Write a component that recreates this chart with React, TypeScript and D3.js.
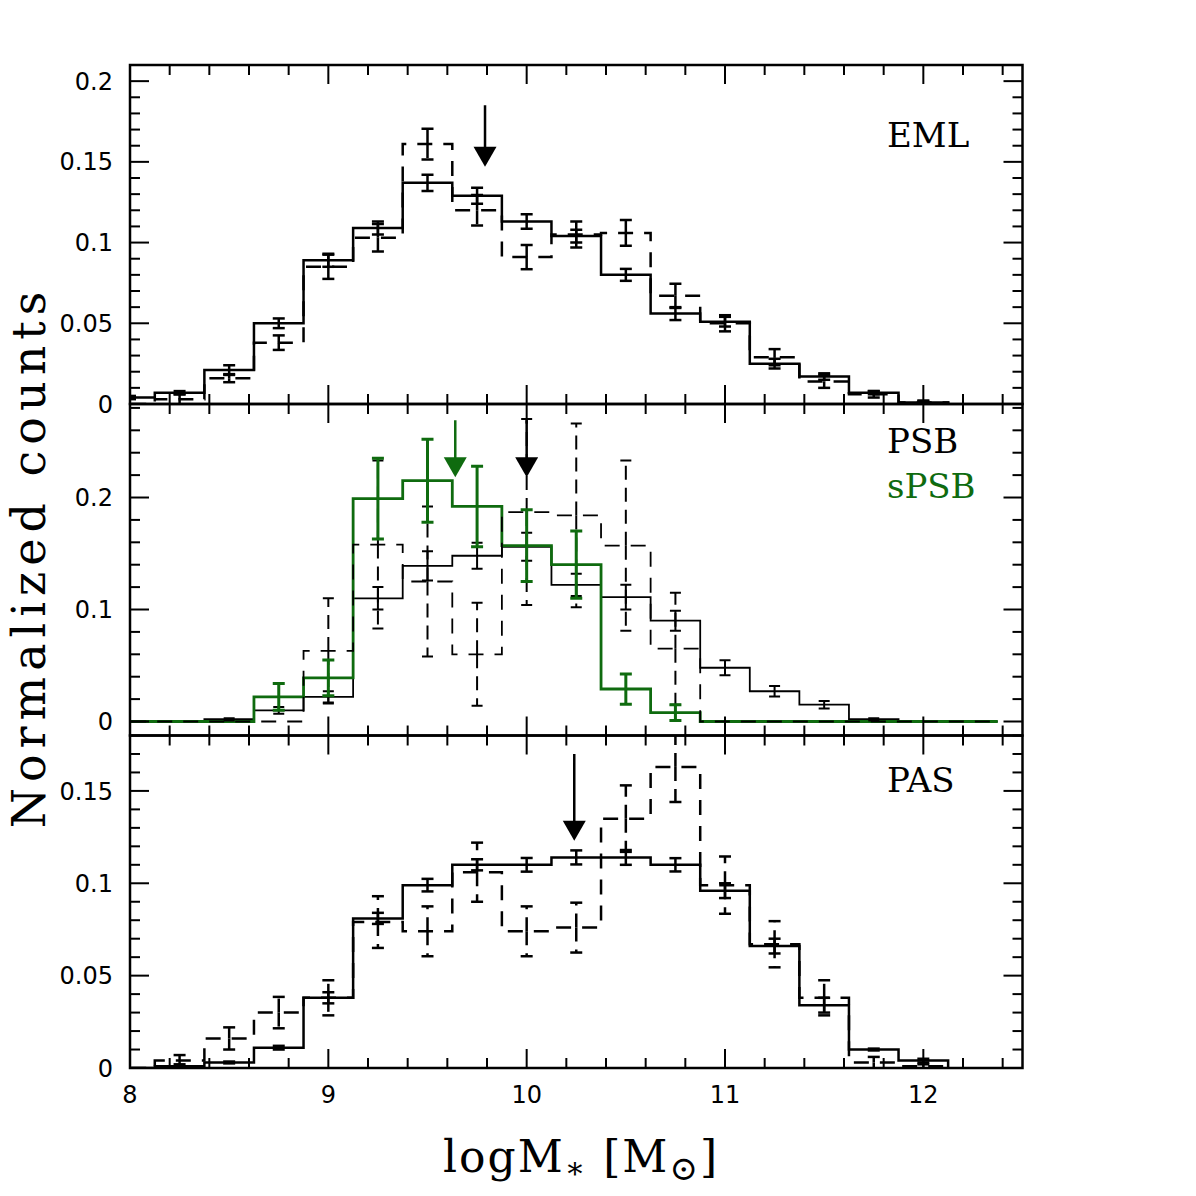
import React from 'react';
import * as d3 from 'd3';

// bins of 0.25 dex in stellar mass
const binCenters = [8.0, 8.25, 8.5, 8.75, 9.0, 9.25, 9.5, 9.75, 10.0, 10.25, 10.5, 10.75, 11.0, 11.25, 11.5, 11.75, 12.0, 12.25];
const HALF = 0.125;

// EML
const emlSolid = [0.004, 0.007, 0.021, 0.050, 0.089, 0.109, 0.137, 0.129, 0.113, 0.104, 0.080, 0.056, 0.051, 0.025, 0.017, 0.007, 0.001];
const emlSolidErr = [0.001, 0.001, 0.003, 0.003, 0.004, 0.004, 0.005, 0.005, 0.0045, 0.004, 0.0037, 0.004, 0.003, 0.003, 0.002, 0.001, 0.001];
const emlDashed = [0.0, 0.003, 0.016, 0.038, 0.085, 0.103, 0.161, 0.120, 0.091, 0.105, 0.106, 0.067, 0.050, 0.029, 0.014, 0.006, 0.001];
const emlDashedErr = [0, 0.003, 0.0025, 0.0045, 0.0075, 0.0085, 0.0095, 0.0095, 0.0075, 0.008, 0.008, 0.0075, 0.005, 0.005, 0.004, 0.002, 0.001];

// PSB / sPSB
const psbSolid = [0, 0, 0.002, 0.010, 0.022, 0.110, 0.139, 0.148, 0.156, 0.122, 0.111, 0.090, 0.048, 0.027, 0.015, 0.002, 0, 0];
const psbSolidErr = [0, 0, 0.001, 0.003, 0.005, 0.010, 0.013, 0.0115, 0.0125, 0.010, 0.011, 0.009, 0.0068, 0.0046, 0.0034, 0.001, 0, 0];
const psbDashed = [0, 0, 0, 0, 0.063, 0.158, 0.125, 0.060, 0.187, 0.184, 0.157, 0.065, 0, 0, 0, 0, 0, 0];
const psbDashedErr = [0, 0, 0, 0, 0.047, 0.075, 0.067, 0.046, 0.083, 0.082, 0.076, 0.050, 0, 0, 0, 0, 0, 0];
const spsb = [0, 0, 0, 0.022, 0.039, 0.199, 0.215, 0.192, 0.157, 0.140, 0.029, 0.008, 0, 0, 0, 0, 0, 0];
const spsbErr = [0, 0, 0, 0.012, 0.016, 0.036, 0.037, 0.036, 0.032, 0.030, 0.0135, 0.007, 0, 0, 0, 0, 0, 0];

// PAS
const pasSolid = [0, 0.001, 0.003, 0.011, 0.038, 0.081, 0.099, 0.110, 0.110, 0.114, 0.114, 0.110, 0.096, 0.066, 0.034, 0.010, 0.004];
const pasSolidErr = [0, 0.001, 0.0005, 0.001, 0.003, 0.003, 0.0034, 0.003, 0.0037, 0.0038, 0.004, 0.0036, 0.004, 0.004, 0.004, 0.0005, 0.001];
const pasDashed = [0, 0.004, 0.016, 0.030, 0.038, 0.079, 0.074, 0.106, 0.074, 0.076, 0.135, 0.163, 0.099, 0.067, 0.038, 0.003, 0.001];
const pasDashedErr = [0, 0.003, 0.006, 0.0085, 0.0095, 0.014, 0.0135, 0.016, 0.0135, 0.0135, 0.018, 0.019, 0.0155, 0.0125, 0.0095, 0.003, 0.001];

// medians
const medianEML = 9.79;
const medianPSB = 10.0;
const medianSPSB = 9.64;
const medianPAS = 10.24;

const xTicks = [8, 9, 10, 11, 12];
const GREEN = '#0f6b0f';
const DASH = '15,11';

const x = d3.scaleLinear().domain([8, 12.5]).range([130, 1022.5]);

const panels = [
  { id: 'eml', y: d3.scaleLinear().domain([0, 0.21]).range([404, 65]), minor: 0.01, labels: [0, 0.05, 0.1, 0.15, 0.2] },
  { id: 'psb', y: d3.scaleLinear().domain([-0.0125, 0.2835]).range([735.5, 404]), minor: 0.02, labels: [0, 0.1, 0.2] },
  { id: 'pas', y: d3.scaleLinear().domain([0, 0.18]).range([1068, 735.5]), minor: 0.01, labels: [0, 0.05, 0.1, 0.15] },
];

function stepPath(values: number[], y: d3.ScaleLinear<number, number>) {
  const pts: [number, number][] = [[binCenters[0] - HALF, 0]];
  values.forEach((v, i) => {
    pts.push([binCenters[i] - HALF, v]);
    pts.push([binCenters[i] + HALF, v]);
  });
  pts.push([binCenters[values.length - 1] + HALF, 0]);
  return d3.line<[number, number]>().x((d) => x(d[0])).y((d) => y(d[1]))(pts) || '';
}

function Hist({ values, y, color = '#000', width = 2.5, dashed = false }) {
  return (
    <path d={stepPath(values, y)} fill="none" stroke={color} strokeWidth={width}
      strokeDasharray={dashed ? DASH : undefined} strokeLinejoin="miter" />
  );
}

function ErrorBars({ values, errs, y, color = '#000', width = 2.5, dashed = false, cap = 12 }) {
  return (
    <g stroke={color} strokeWidth={width} fill="none">
      {values.map((v, i) => {
        const e = errs[i];
        if (!e) return null;
        const cx = x(binCenters[i]);
        const lo = y(Math.max(v - e, 0));
        const hi = y(v + e);
        const mid = y(v);
        return (
          <g key={i}>
            {dashed ? (
              <>
                <line x1={cx} x2={cx} y1={mid} y2={hi} strokeDasharray="14,8" />
                <line x1={cx} x2={cx} y1={mid} y2={lo} strokeDasharray="14,8" />
              </>
            ) : (
              <line x1={cx} x2={cx} y1={lo} y2={hi} />
            )}
            <line x1={cx - cap / 2} x2={cx + cap / 2} y1={hi} y2={hi} />
            {v - e > 0 && <line x1={cx - cap / 2} x2={cx + cap / 2} y1={lo} y2={lo} />}
          </g>
        );
      })}
    </g>
  );
}

function Arrow({ at, y, top, tip, color = '#000' }) {
  const cx = x(at);
  const yt = y(tip);
  return (
    <g>
      <line x1={cx} x2={cx} y1={y(top)} y2={yt - 18} stroke={color} strokeWidth={2.5} />
      <path d={`M${cx - 11.5},${yt - 20} L${cx + 11.5},${yt - 20} L${cx},${yt} Z`} fill={color} />
    </g>
  );
}

function Frame({ y, minor, labels }) {
  const [y0, y1] = y.range();
  const d1 = y.domain()[1];
  const xMinor = d3.range(8, 12.5001, 0.2).map((v) => +v.toFixed(2));
  const yMinor = d3.range(0, d1 + 1e-9, minor).map((v) => +v.toFixed(3));
  const isMajorX = (v: number) => Math.abs(v - Math.round(v)) < 1e-6;
  const isMajorY = (v: number) => labels.some((l) => Math.abs(l - v) < 1e-6);
  return (
    <g stroke="#000" strokeWidth={2}>
      {xMinor.map((v) => {
        const len = isMajorX(v) ? 19 : 10;
        return (
          <g key={'x' + v}>
            <line x1={x(v)} x2={x(v)} y1={y0} y2={y0 - len} />
            <line x1={x(v)} x2={x(v)} y1={y1} y2={y1 + len} />
          </g>
        );
      })}
      {yMinor.map((v) => {
        const len = isMajorY(v) ? 19 : 10;
        return (
          <g key={'y' + v}>
            <line x1={130} x2={130 + len} y1={y(v)} y2={y(v)} />
            <line x1={1022.5} x2={1022.5 - len} y1={y(v)} y2={y(v)} />
          </g>
        );
      })}
      <rect x={130} y={y1} width={1022.5 - 130} height={y0 - y1} fill="none" strokeWidth={2.5} />
      {labels.map((v) => (
        <text key={'l' + v} x={113} y={y(v)} dy="0.36em" textAnchor="end" stroke="none" fill="#000"
          fontFamily="DejaVu Sans" fontSize={24}>{String(v)}</text>
      ))}
    </g>
  );
}

export default function App() {
  const [p1, p2, p3] = panels;
  const labelFont = { fontFamily: 'DejaVu Serif', fontSize: 34 };
  return (
    <svg width={1196} height={1196} style={{ position: 'absolute', left: 0, top: 0, background: '#fff' }}>
      <defs>
        {panels.map((p) => (
          <clipPath id={'clip-' + p.id} key={p.id}>
            <rect x={130} y={p.y.range()[1]} width={1022.5 - 130} height={p.y.range()[0] - p.y.range()[1]} />
          </clipPath>
        ))}
      </defs>

      <g clipPath="url(#clip-eml)">
        <Hist values={emlDashed} y={p1.y} dashed />
        <Hist values={emlSolid} y={p1.y} />
        <ErrorBars values={emlDashed} errs={emlDashedErr} y={p1.y} dashed />
        <ErrorBars values={emlSolid} errs={emlSolidErr} y={p1.y} />
        <Arrow at={medianEML} y={p1.y} top={0.185} tip={0.147} />
      </g>

      <g clipPath="url(#clip-psb)">
        <Hist values={psbSolid} y={p2.y} width={1.8} />
        <Hist values={spsb} y={p2.y} color={GREEN} width={2.8} />
        <Hist values={psbDashed} y={p2.y} width={1.8} dashed />
        <ErrorBars values={psbSolid} errs={psbSolidErr} y={p2.y} width={2} cap={11} />
        <ErrorBars values={psbDashed} errs={psbDashedErr} y={p2.y} width={2} cap={11} dashed />
        <ErrorBars values={spsb} errs={spsbErr} y={p2.y} color={GREEN} width={3} cap={12} />
        <Arrow at={medianSPSB} y={p2.y} top={0.269} tip={0.218} color={GREEN} />
        <Arrow at={medianPSB} y={p2.y} top={0.269} tip={0.218} />
      </g>

      <g clipPath="url(#clip-pas)">
        <Hist values={pasDashed} y={p3.y} dashed />
        <Hist values={pasSolid} y={p3.y} />
        <ErrorBars values={pasDashed} errs={pasDashedErr} y={p3.y} dashed />
        <ErrorBars values={pasSolid} errs={pasSolidErr} y={p3.y} />
        <Arrow at={medianPAS} y={p3.y} top={0.17} tip={0.123} />
      </g>

      {panels.map((p) => (
        <Frame key={p.id} y={p.y} minor={p.minor} labels={p.labels} />
      ))}

      {xTicks.map((v) => (
        <text key={v} x={x(v)} y={1103} textAnchor="middle" fontFamily="DejaVu Sans" fontSize={24}>{v}</text>
      ))}

      <text x={887} y={147} {...labelFont}>EML</text>
      <text x={887} y={453} {...labelFont}>PSB</text>
      <text x={887} y={498} {...labelFont} fill={GREEN}>sPSB</text>
      <text x={887} y={792} {...labelFont}>PAS</text>

      <text x={443} y={1172} fontFamily="DejaVu Serif" fontSize={44} letterSpacing={2}>
        logM<tspan fontSize={30} dy={6}>∗</tspan>
        <tspan dy={-6}> [M</tspan>
        <tspan fontSize={34} dy={8}>⊙</tspan>
        <tspan dy={-8}>]</tspan>
      </text>

      <text transform="translate(45,557) rotate(-90)" textAnchor="middle" fontFamily="DejaVu Serif"
        fontSize={46} letterSpacing={6}>Normalized counts</text>
    </svg>
  );
}
